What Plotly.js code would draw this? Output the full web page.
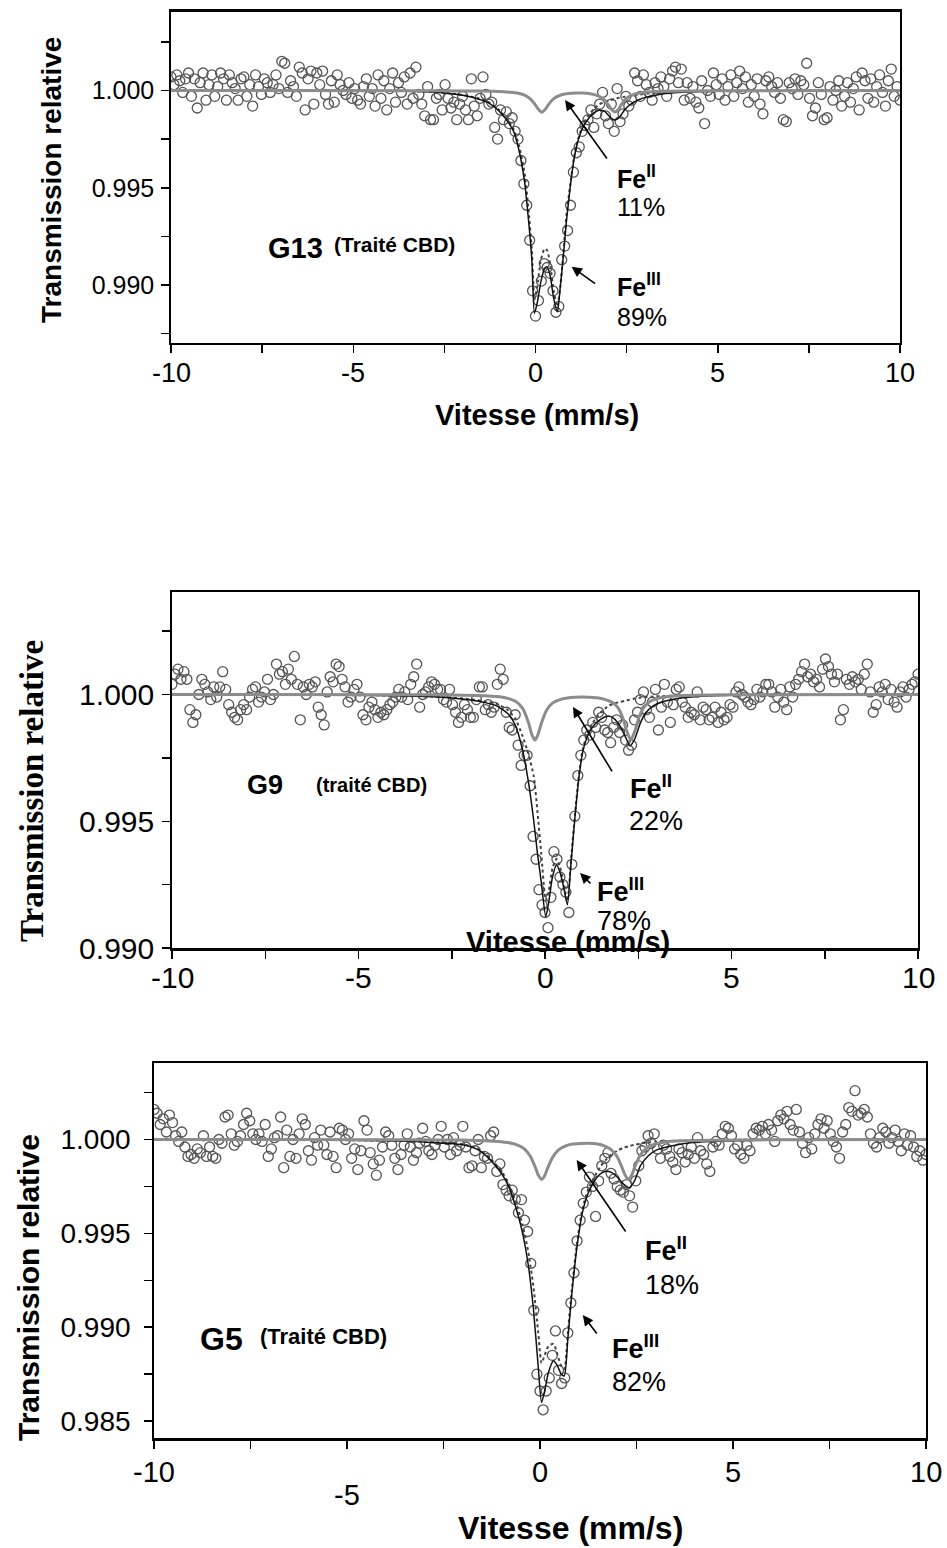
<!DOCTYPE html>
<html><head><meta charset="utf-8">
<script src="https://cdn.plot.ly/plotly-3.0.1.min.js"></script>
<style>html,body{margin:0;padding:0;background:#fff}</style>
</head><body><div id="chart" style="width:947px;height:1548px"></div>
<script>
// Velocity channels (mm/s), shared by the three spectra
const velocity = [
-10.00,-9.92,-9.84,-9.76,-9.68,-9.60,-9.52,-9.44,-9.36,-9.28,
-9.20,-9.12,-9.04,-8.96,-8.88,-8.80,-8.72,-8.64,-8.56,-8.48,
-8.40,-8.32,-8.24,-8.16,-8.08,-8.00,-7.92,-7.84,-7.76,-7.68,
-7.60,-7.52,-7.44,-7.36,-7.28,-7.20,-7.12,-7.04,-6.96,-6.88,
-6.80,-6.72,-6.64,-6.56,-6.48,-6.40,-6.32,-6.24,-6.16,-6.08,
-6.00,-5.92,-5.84,-5.76,-5.68,-5.60,-5.52,-5.44,-5.36,-5.28,
-5.20,-5.12,-5.04,-4.96,-4.88,-4.80,-4.72,-4.64,-4.56,-4.48,
-4.40,-4.32,-4.24,-4.16,-4.08,-4.00,-3.92,-3.84,-3.76,-3.68,
-3.60,-3.52,-3.44,-3.36,-3.28,-3.20,-3.12,-3.04,-2.96,-2.88,
-2.80,-2.72,-2.64,-2.56,-2.48,-2.40,-2.32,-2.24,-2.16,-2.08,
-2.00,-1.92,-1.84,-1.76,-1.68,-1.60,-1.52,-1.44,-1.36,-1.28,
-1.20,-1.12,-1.04,-0.96,-0.88,-0.80,-0.72,-0.64,-0.56,-0.48,
-0.40,-0.32,-0.24,-0.16,-0.08,0.00,0.08,0.16,0.24,0.32,
0.40,0.48,0.56,0.64,0.72,0.80,0.88,0.96,1.04,1.12,
1.20,1.28,1.36,1.44,1.52,1.60,1.68,1.76,1.84,1.92,
2.00,2.08,2.16,2.24,2.32,2.40,2.48,2.56,2.64,2.72,
2.80,2.88,2.96,3.04,3.12,3.20,3.28,3.36,3.44,3.52,
3.60,3.68,3.76,3.84,3.92,4.00,4.08,4.16,4.24,4.32,
4.40,4.48,4.56,4.64,4.72,4.80,4.88,4.96,5.04,5.12,
5.20,5.28,5.36,5.44,5.52,5.60,5.68,5.76,5.84,5.92,
6.00,6.08,6.16,6.24,6.32,6.40,6.48,6.56,6.64,6.72,
6.80,6.88,6.96,7.04,7.12,7.20,7.28,7.36,7.44,7.52,
7.60,7.68,7.76,7.84,7.92,8.00,8.08,8.16,8.24,8.32,
8.40,8.48,8.56,8.64,8.72,8.80,8.88,8.96,9.04,9.12,
9.20,9.28,9.36,9.44,9.52,9.60,9.68,9.76,9.84,9.92,
10.00];

// Measured relative transmission, G13
const transG13 = [
1.0007,1.0003,1.0008,1.0005,0.9999,1.0006,1.0009,0.9997,1.0006,0.9991,
1.0004,1.0009,0.9995,1.0003,1.0008,0.9997,1.0002,1.0009,1.0006,0.9995,
1.0008,1.0004,1.0001,0.9995,1.0006,1.0007,0.9997,1.0003,0.9992,1.0008,
1.0002,0.9998,1.0006,1.0004,0.9999,1.0003,1.0008,1.0001,1.0015,1.0014,
0.9999,1.0005,1.0002,0.9997,1.0012,1.0009,0.9990,1.0006,1.0010,0.9993,
1.0009,1.0003,1.0010,0.9998,0.9993,1.0005,0.9994,1.0008,1.0003,1.0000,
0.9998,1.0004,0.9996,1.0001,0.9995,0.9993,1.0002,1.0006,0.9997,1.0001,
0.9992,1.0008,0.9996,1.0005,0.9990,1.0001,1.0009,0.9994,1.0004,0.9999,
1.0007,0.9993,1.0009,0.9996,1.0012,0.9998,0.9993,0.9987,1.0002,0.9985,
0.9985,0.9996,0.9998,0.9990,1.0003,0.9996,0.9991,0.9994,0.9985,0.9993,
0.9997,0.9990,0.9985,1.0006,0.9992,0.9987,0.9996,1.0007,0.9998,0.9993,
0.9994,0.9981,0.9975,0.9990,0.9985,0.9989,0.9983,0.9986,0.9979,0.9975,
0.9964,0.9952,0.9941,0.9923,0.9897,0.9884,0.9892,0.9902,0.9911,0.9909,
0.9906,0.9897,0.9886,0.9889,0.9913,0.9920,0.9928,0.9941,0.9958,0.9968,
0.9971,0.9979,0.9982,0.9985,0.9990,0.9981,0.9988,0.9993,0.9999,0.9987,
0.9983,0.9993,0.9979,1.0001,0.9984,0.9988,0.9997,0.9992,0.9995,1.0009,
1.0005,0.9997,1.0008,1.0003,0.9999,0.9995,1.0004,1.0001,1.0007,1.0002,
0.9997,1.0006,1.0010,1.0012,1.0004,1.0011,0.9995,1.0004,0.9996,1.0002,
0.9994,0.9991,1.0005,0.9983,1.0000,0.9997,1.0009,1.0003,0.9998,1.0006,
0.9995,1.0002,1.0008,0.9997,1.0004,1.0010,1.0001,1.0007,0.9994,1.0003,
0.9997,1.0006,0.9993,0.9988,1.0005,1.0007,1.0002,0.9999,1.0004,0.9996,
0.9985,0.9984,1.0004,1.0001,1.0006,0.9998,1.0005,1.0003,1.0014,0.9996,
0.9987,0.9991,1.0004,0.9998,0.9985,0.9986,1.0002,0.9995,1.0000,1.0005,
0.9992,0.9997,1.0004,0.9994,1.0001,1.0007,0.9990,1.0009,1.0005,0.9996,
1.0006,0.9994,1.0002,1.0008,0.9999,0.9992,1.0005,1.0011,0.9997,1.0002,
0.9995];

// Measured relative transmission, G9
const transG9 = [
1.0004,1.0008,1.0010,1.0006,1.0009,1.0006,0.9994,0.9989,0.9992,1.0000,
1.0006,1.0004,1.0001,0.9998,1.0003,0.9999,1.0003,1.0009,1.0002,0.9996,
0.9993,0.9991,0.9990,0.9994,0.9996,0.9994,0.9999,1.0002,1.0003,0.9997,
0.9999,1.0001,1.0006,0.9998,1.0000,1.0012,1.0008,1.0009,1.0004,1.0010,
1.0006,1.0015,1.0004,0.9990,1.0003,1.0000,1.0004,1.0003,1.0005,0.9995,
0.9992,0.9988,1.0001,1.0007,1.0005,1.0012,1.0011,1.0006,1.0003,0.9997,
0.9999,1.0002,1.0004,0.9999,0.9992,0.9990,0.9995,0.9997,0.9994,0.9991,
0.9993,0.9992,0.9994,0.9996,0.9997,0.9999,1.0002,0.9999,1.0001,0.9998,
1.0004,1.0007,1.0012,0.9995,1.0000,1.0001,1.0003,1.0005,1.0004,1.0002,
1.0002,0.9998,0.9997,1.0002,0.9996,0.9993,0.9989,0.9991,0.9996,0.9994,
0.9991,0.9991,0.9998,1.0003,1.0003,0.9994,0.9996,0.9993,0.9995,1.0004,
1.0010,1.0006,0.9993,0.9987,0.9986,0.9992,0.9980,0.9972,0.9976,0.9976,
0.9964,0.9944,0.9935,0.9923,0.9917,0.9914,0.9908,0.9920,0.9938,0.9935,
0.9928,0.9925,0.9922,0.9914,0.9933,0.9952,0.9968,0.9976,0.9982,0.9986,
0.9984,0.9989,0.9987,0.9993,0.9991,0.9986,0.9985,0.9981,0.9987,0.9990,
0.9985,0.9988,0.9982,0.9978,0.9980,0.9990,0.9993,0.9998,1.0001,0.9994,
0.9991,0.9997,1.0002,0.9986,0.9995,1.0004,0.9997,0.9989,0.9996,1.0002,
1.0003,0.9997,0.9995,0.9991,0.9993,0.9992,1.0001,0.9990,0.9995,0.9994,
0.9990,0.9991,0.9995,0.9989,0.9993,0.9990,0.9991,0.9996,0.9995,1.0001,
1.0003,1.0000,0.9999,0.9997,0.9996,0.9998,1.0002,0.9999,1.0001,1.0004,
1.0004,1.0001,0.9995,0.9999,1.0002,0.9997,0.9994,1.0003,0.9999,1.0004,
1.0006,1.0009,1.0012,1.0007,1.0008,1.0005,1.0006,1.0003,1.0010,1.0014,
1.0011,1.0008,1.0005,1.0008,0.9990,0.9994,1.0006,1.0004,1.0007,1.0005,
1.0006,1.0002,1.0008,1.0012,1.0001,0.9993,0.9996,1.0003,1.0001,1.0004,
0.9998,1.0002,0.9997,0.9995,1.0001,1.0003,0.9999,1.0002,1.0004,1.0005,
1.0008];

// Measured relative transmission, G5
const transG5 = [
1.0016,1.0014,1.0008,1.0011,1.0004,1.0013,1.0009,1.0002,0.9999,1.0004,
0.9996,0.9991,0.9992,0.9990,0.9995,0.9993,1.0002,0.9991,0.9996,0.9991,
0.9990,1.0000,0.9998,1.0012,1.0013,1.0003,0.9997,0.9999,1.0002,1.0008,
1.0014,1.0010,1.0003,1.0000,1.0003,0.9999,1.0008,0.9991,0.9995,1.0001,
1.0002,1.0012,0.9985,1.0005,0.9991,1.0000,0.9990,1.0003,1.0011,1.0008,
0.9994,0.9989,1.0001,0.9997,1.0005,0.9997,0.9992,1.0004,0.9991,0.9985,
1.0006,1.0005,1.0000,1.0003,0.9990,0.9995,0.9984,0.9994,1.0010,1.0005,
0.9993,0.9987,0.9981,0.9989,0.9996,1.0004,1.0002,0.9997,0.9990,0.9984,
0.9992,0.9997,1.0003,0.9996,0.9989,0.9993,0.9998,1.0006,0.9999,0.9994,
0.9992,0.9997,1.0000,1.0007,0.9996,1.0000,0.9992,1.0001,0.9994,0.9997,
1.0007,0.9996,0.9985,0.9986,0.9994,1.0000,0.9985,0.9991,0.9990,1.0002,
1.0004,0.9983,0.9987,0.9976,0.9973,0.9970,0.9973,0.9968,0.9961,0.9968,
0.9957,0.9951,0.9934,0.9909,0.9875,0.9866,0.9856,0.9866,0.9873,0.9885,
0.9898,0.9877,0.9870,0.9873,0.9897,0.9913,0.9929,0.9946,0.9957,0.9966,
0.9972,0.9980,0.9975,0.9959,0.9978,0.9986,0.9990,0.9993,0.9982,0.9979,
0.9975,0.9973,0.9972,0.9976,0.9970,0.9964,0.9978,0.9986,0.9994,0.9996,
1.0002,0.9998,1.0003,0.9995,0.9990,0.9997,0.9995,0.9991,0.9988,0.9984,
0.9995,0.9993,0.9988,0.9992,0.9996,0.9990,1.0001,0.9994,0.9992,0.9987,
0.9983,0.9996,0.9999,0.9997,1.0003,1.0007,1.0006,1.0002,0.9995,0.9997,
0.9992,0.9990,0.9997,0.9994,1.0003,1.0006,1.0005,1.0007,1.0003,1.0008,
1.0005,0.9999,1.0010,1.0013,1.0011,1.0015,1.0008,1.0005,1.0016,1.0004,
0.9998,0.9993,1.0001,0.9995,1.0003,1.0008,1.0011,1.0006,1.0010,1.0003,
0.9999,0.9996,0.9990,1.0004,1.0008,1.0017,1.0015,1.0026,1.0013,1.0014,
1.0016,1.0012,1.0003,0.9998,0.9996,1.0001,1.0006,1.0004,0.9998,1.0001,
1.0005,0.9999,0.9994,1.0003,0.9997,1.0002,0.9996,0.9991,0.9994,0.9989,
0.9992];

// Fitted curves: G13
const fitV_G13 = [-10,-6,-4,-3,-2.5,-2,-1.6,-1.3,-1.0,-0.8,-0.6,-0.45,-0.3,-0.2,-0.1,-0.03,0.05,0.15,0.25,0.32,0.4,0.5,0.6,0.68,0.76,0.85,0.95,1.05,1.15,1.3,1.45,1.6,1.75,1.9,2.05,2.18,2.3,2.45,2.6,2.8,3.05,3.4,3.8,4.4,5.5,10];
const fitTotal_G13 = [1.0,1.0,0.99998,0.99993,0.99987,0.99975,0.99958,0.99938,0.99895,0.9985,0.9979,0.9969,0.9953,0.9935,0.9913,0.98855,0.9891,0.9902,0.99085,0.99093,0.9905,0.9893,0.98862,0.9899,0.9914,0.9933,0.995,0.9964,0.9973,0.9981,0.99855,0.99885,0.99898,0.99893,0.99862,0.99848,0.99862,0.99902,0.99928,0.9995,0.99966,0.9998,0.99988,0.99994,0.99998,1.0];
const fitFe3_G13 = [1.0,1.0,0.99999,0.99994,0.99988,0.99977,0.99961,0.99942,0.999,0.99858,0.99801,0.99716,0.99574,0.99406,0.99177,0.98925,0.98993,0.9913,0.99187,0.99178,0.99111,0.9897,0.98889,0.9899,0.99155,0.99362,0.9951,0.99648,0.99737,0.99823,0.99871,0.99905,0.99929,0.99942,0.9995,0.99958,0.99963,0.99968,0.99972,0.99978,0.99984,0.99988,0.99992,0.99996,0.99999,1.0];
const fe2V_G13 = [-10,-3,-2,-1.5,-1,-0.7,-0.5,-0.3,-0.15,0,0.08,0.17,0.26,0.35,0.5,0.7,0.9,1.1,1.3,1.5,1.7,1.85,2.0,2.1,2.18,2.26,2.36,2.5,2.7,3.0,3.5,4.2,5.5,10];
const fitFe2_G13 = [1.0,0.99999,0.99998,0.99997,0.99995,0.99991,0.99987,0.99976,0.99958,0.99925,0.99903,0.99888,0.99901,0.99926,0.99958,0.99977,0.99984,0.99987,0.99987,0.99983,0.99974,0.99958,0.99926,0.99899,0.9989,0.99899,0.99928,0.9996,0.9998,0.99991,0.99996,0.99998,0.99999,1.0];

// G9
const fitV_G9 = [-10,-6,-4,-3,-2.5,-2,-1.6,-1.3,-1.0,-0.8,-0.6,-0.45,-0.3,-0.2,-0.1,0.02,0.1,0.2,0.31,0.4,0.5,0.6,0.7,0.8,0.9,1.0,1.1,1.2,1.35,1.5,1.7,1.85,2.0,2.15,2.28,2.4,2.55,2.7,2.9,3.2,3.6,4.2,5.0,6.0,10];
const fitTotal_G9 = [1.0,0.99998,0.99995,0.99991,0.99986,0.99978,0.99968,0.99955,0.99925,0.9988,0.9978,0.9966,0.995,0.9937,0.9926,0.99123,0.9918,0.9928,0.99327,0.993,0.9924,0.9917,0.9934,0.9951,0.9966,0.99765,0.9982,0.99855,0.99885,0.99903,0.99915,0.99905,0.99878,0.99835,0.99798,0.99822,0.99885,0.99928,0.99955,0.99973,0.99985,0.99993,0.99997,0.99999,1.0];
const fitFe3_G9 = [1.0,0.99998,0.99996,0.99992,0.99988,0.99981,0.99973,0.99963,0.99939,0.99906,0.99835,0.99768,0.99676,0.99535,0.99373,0.99188,0.99225,0.99314,0.99352,0.9932,0.99256,0.99184,0.99352,0.99521,0.9967,0.99775,0.9983,0.99866,0.99905,0.9993,0.99955,0.99965,0.9997,0.99975,0.9998,0.99984,0.99987,0.9999,0.99992,0.99994,0.99996,0.99998,0.99999,1.0,1.0];
const fe2V_G9 = [-10,-4,-2.5,-1.6,-1.1,-0.8,-0.6,-0.45,-0.35,-0.27,-0.19,-0.09,0.05,0.2,0.4,0.6,0.8,1.0,1.2,1.4,1.6,1.8,1.95,2.08,2.18,2.3,2.42,2.52,2.65,2.8,3.0,3.3,3.8,4.5,6,10];
const fitFe2_G9 = [1.0,0.99999,0.99998,0.99995,0.99988,0.99974,0.99945,0.99892,0.99841,0.9982,0.99841,0.9989,0.9994,0.99966,0.9998,0.99986,0.99989,0.9999,0.99989,0.99987,0.99981,0.99969,0.99949,0.9991,0.99861,0.9982,0.99861,0.9991,0.99949,0.99971,0.99984,0.99992,0.99996,0.99998,0.99999,1.0];

// G5
const fitV_G5 = [-10,-6,-4,-3,-2.5,-2,-1.6,-1.3,-1.0,-0.8,-0.6,-0.45,-0.3,-0.17,-0.05,0.04,0.12,0.22,0.35,0.45,0.55,0.63,0.72,0.82,0.95,1.1,1.25,1.4,1.55,1.7,1.85,2.0,2.15,2.31,2.45,2.6,2.8,3.0,3.4,4.0,5.0,6.5,10];
const fitTotal_G5 = [1.0,0.99998,0.99993,0.99987,0.9998,0.99972,0.99945,0.99894,0.9982,0.99745,0.9962,0.995,0.99326,0.99096,0.988,0.98599,0.9866,0.9876,0.98821,0.98795,0.9875,0.98741,0.98935,0.99167,0.99415,0.99612,0.99715,0.99775,0.99815,0.99831,0.99825,0.998,0.99765,0.99743,0.9978,0.9986,0.99912,0.99942,0.99965,0.99985,0.99994,0.99998,1.0];
const fitFe3_G5 = [1.0,0.99998,0.99994,0.99988,0.99982,0.99975,0.9995,0.99901,0.99832,0.99762,0.99648,0.99543,0.99397,0.99216,0.9898,0.98809,0.9885,0.989,0.98911,0.98855,0.98793,0.98777,0.98965,0.99191,0.99435,0.99632,0.99735,0.99797,0.9985,0.9989,0.9992,0.9994,0.99955,0.99965,0.99972,0.99978,0.99984,0.99988,0.99992,0.99996,0.99998,0.99999,1.0];
const fe2V_G5 = [-10,-4,-2.5,-1.6,-1.1,-0.8,-0.55,-0.4,-0.25,-0.12,-0.04,0.04,0.12,0.2,0.33,0.48,0.65,0.85,1.05,1.25,1.45,1.65,1.85,2.0,2.12,2.21,2.29,2.37,2.46,2.58,2.75,2.95,3.25,3.7,4.5,6,10];
const fitFe2_G5 = [1.0,0.99999,0.99998,0.99995,0.9999,0.99983,0.99968,0.99949,0.99911,0.99851,0.99809,0.99788,0.99807,0.99849,0.99906,0.99945,0.99965,0.99976,0.99979,0.9998,0.99977,0.99967,0.99945,0.99908,0.99853,0.99808,0.9979,0.99808,0.99856,0.99911,0.99952,0.99974,0.99987,0.99993,0.99996,0.99999,1.0];

// Labels
const sampleNames = ['G13','G9','G5'];
const treatLabels = ['(Traité CBD)','(traité CBD)','(Traité CBD)'];
const fe2Pct = ['11%','22%','18%'];
const fe3Pct = ['89%','78%','82%'];
const xTickVals = [-10,-5,0,5,10];
const xTickText = ['-10','-5','0','5','10'];

const FONT = 'Liberation Sans, Arial, Helvetica, sans-serif';
const SERIF = 'Liberation Serif, Times New Roman, serif';

const panels = [
  {ax:'', meas:transG13, fv:fitV_G13, tot:fitTotal_G13, f3:fitFe3_G13, f2v:fe2V_G13, f2:fitFe2_G13,
   xdom:[171/947,900/947], ydom:[1-342.5/1548,1-11.7/1548], yr:[0.987044,1.004051],
   yt:[0.990,0.995,1.000], ymin:[0.9875,0.9925,0.9975,1.0025], fs:25, xfs:27, xly:[373]},
  {ax:'2', meas:transG9, fv:fitV_G9, tot:fitTotal_G9, f3:fitFe3_G9, f2v:fe2V_G9, f2:fitFe2_G9,
   xdom:[172/947,918/947], ydom:[1-948/1548,1-592/1548], yr:[0.99,1.004043],
   yt:[0.990,0.995,1.000], ymin:[0.9925,0.9975,1.0025], fs:30, xfs:30, xly:[977]},
  {ax:'3', meas:transG5, fv:fitV_G5, tot:fitTotal_G5, f3:fitFe3_G5, f2v:fe2V_G5, f2:fitFe2_G5,
   xdom:[154/947,926/947], ydom:[1-1438/1548,1-1063/1548], yr:[0.984097,1.004076],
   yt:[0.985,0.990,0.995,1.000], ymin:[0.9875,0.9925,0.9975,1.0025], fs:28, xfs:29, xly:[1472]}
];

const traces = [];
const layout = {
  width:947, height:1548, margin:{l:0,r:0,t:0,b:0},
  paper_bgcolor:'#fff', plot_bgcolor:'#fff', showlegend:false, hovermode:false,
  font:{family:FONT, color:'#000'}, annotations:[]
};
const A = layout.annotations;
function txt(xref, yref, x, y, text, size, opts){
  A.push(Object.assign({xref:xref, yref:yref, x:x, y:y, text:text, showarrow:false,
    xanchor:'left', yanchor:'middle', font:{family:FONT, size:size, color:'#000'}}, opts||{}));
}
function arrow(xref, yref, x, y, ax, ay){
  A.push({xref:xref, yref:yref, x:x, y:y, ax:ax, ay:ay, text:'', showarrow:true,
    arrowhead:2, arrowsize:1.3, arrowwidth:1.6, arrowcolor:'#000'});
}

panels.forEach((p,i)=>{
  const xa = 'x'+p.ax, ya = 'y'+p.ax;
  traces.push({x:velocity, y:p.meas, xaxis:xa, yaxis:ya, type:'scatter', mode:'markers',
    marker:{symbol:'circle-open', size:10, color:'#555', line:{width:1.3, color:'#555'}}, cliponaxis:true});
  traces.push({x:p.fv, y:p.f3, xaxis:xa, yaxis:ya, type:'scatter', mode:'lines',
    line:{color:'#444', width:2, dash:'dot', shape:'spline', smoothing:0.6}});
  traces.push({x:p.fv, y:p.tot, xaxis:xa, yaxis:ya, type:'scatter', mode:'lines',
    line:{color:'#111', width:1.5, shape:'spline', smoothing:0.6}});
  traces.push({x:p.f2v, y:p.f2, xaxis:xa, yaxis:ya, type:'scatter', mode:'lines',
    line:{color:'#8c8c8c', width:3, shape:'spline', smoothing:0.6}});

  layout['xaxis'+p.ax] = {domain:p.xdom, anchor:ya, range:[-10,10], tickmode:'array',
    tickvals:xTickVals, showticklabels:false, ticks:'outside', ticklen:8, tickwidth:1.5, tickcolor:'#000',
    minor:{tickvals:[-7.5,-2.5,2.5,7.5], ticks:'outside', ticklen:8, tickwidth:1.5, tickcolor:'#000'},
    showline:true, linewidth:2.5, linecolor:'#000', mirror:true, showgrid:false, zeroline:false, fixedrange:true};
  layout['yaxis'+p.ax] = {domain:p.ydom, anchor:xa, range:p.yr, tickmode:'array',
    tickvals:p.yt, ticktext:p.yt.map(v=>v.toFixed(3)), ticks:'outside', ticklen:8, tickwidth:1.5, tickcolor:'#000',
    minor:{tickvals:p.ymin, ticks:'outside', ticklen:8, tickwidth:1.5, tickcolor:'#000'},
    showline:true, linewidth:1.8, linecolor:'#000', mirror:true, showgrid:false, zeroline:false,
    tickfont:{size:p.fs, family:FONT, color:'#000'}, ticklabelstandoff: i===2?8:2, fixedrange:true};

  // x tick labels placed on the axis scale (the "-5" of the bottom panel sits lower, as in the figure)
  xTickVals.forEach((v,k)=>{
    let yy = p.xly[0];
    if (i===2 && v===-5) yy = 1495;
    txt(xa,'paper',v,1-yy/1548,xTickText[k],p.xfs,{xanchor:'center'});
  });
});

// Panel 1 (G13)
txt('x','y',-7.39,0.99189,'<b>'+sampleNames[0]+'</b>',29);
txt('x','y',-5.57,0.99206,'<b>'+treatLabels[0]+'</b>',21);
txt('x','y',2.18,0.99555,'<b>Fe<sup>II</sup></b>',25);
txt('x','y',2.18,0.99401,fe2Pct[0],25);
txt('x','y',2.18,0.99000,'<b>Fe<sup>III</sup></b>',25);
txt('x','y',2.18,0.98835,fe3Pct[0],25);
arrow('x','y',0.81,0.99951,43,60);
arrow('x','y',0.99,0.99094,25,18);

// Panel 2 (G9)
txt('x2','y2',-8.05,0.99643,'<b>'+sampleNames[1]+'</b>',27);
txt('x2','y2',-6.2,0.99643,'<b>'+treatLabels[1]+'</b>',20);
txt('x2','y2',2.23,0.99635,'<b>Fe<sup>II</sup></b>',27);
txt('x2','y2',2.2,0.99501,fe2Pct[1],27);
txt('x2','y2',1.34,0.99229,'<b>Fe<sup>III</sup></b>',27);
txt('x2','y2',1.34,0.99107,fe3Pct[1],27);
arrow('x2','y2',0.75,0.99951,40,66);
arrow('x2','y2',0.94,0.99296,12,12);

// Panel 3 (G5)
txt('x3','y3',-8.86,0.98937,'<b>'+sampleNames[2]+'</b>',32);
txt('x3','y3',-7.31,0.98950,'<b>'+treatLabels[2]+'</b>',22);
txt('x3','y3',2.67,0.99417,'<b>Fe<sup>II</sup></b>',27);
txt('x3','y3',2.67,0.99225,fe2Pct[2],27);
txt('x3','y3',1.81,0.98894,'<b>Fe<sup>III</sup></b>',27);
txt('x3','y3',1.81,0.98708,fe3Pct[2],27);
arrow('x3','y3',0.95,0.99891,50,73);
arrow('x3','y3',1.11,0.99065,15,20);

// Axis titles
txt('paper','paper',52/947,1-180/1548,'<b>Transmission relative</b>',28,{xanchor:'center',textangle:-90});
txt('paper','paper',537/947,1-415/1548,'<b>Vitesse (mm/s)</b>',29,{xanchor:'center'});
txt('paper','paper',32/947,1-791/1548,'<b>Transmission relative</b>',33,{xanchor:'center',textangle:-90,font:{family:SERIF,size:33,color:'#000'}});
txt('paper','paper',568/947,1-942/1548,'<b>Vitesse (mm/s)</b>',29,{xanchor:'center'});
txt('paper','paper',28/947,1-1288/1548,'<b>Transmission relative</b>',30,{xanchor:'center',textangle:-90});
txt('paper','paper',570/947,1-1528/1548,'<b>Vitesse (mm/s)</b>',32,{xanchor:'center'});

Plotly.newPlot('chart', traces, layout, {staticPlot:true, displayModeBar:false});
</script>
</body></html>
